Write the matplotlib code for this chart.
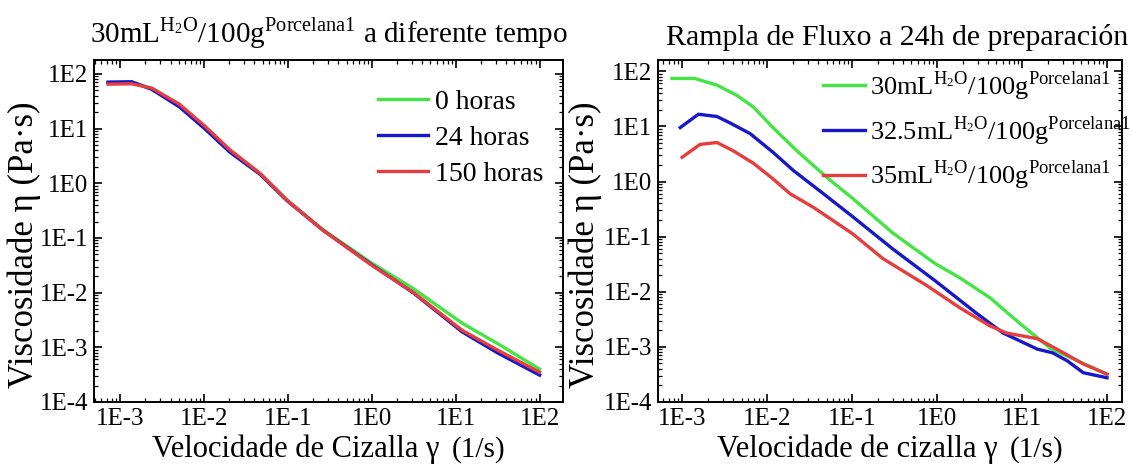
import matplotlib
matplotlib.use("Agg")
import matplotlib.pyplot as plt
import matplotlib.ticker as mticker
from matplotlib.offsetbox import AnchoredOffsetbox, HPacker, TextArea
import numpy as np

plt.rcParams["font.family"] = ["Liberation Serif", "DejaVu Serif"]
plt.rcParams["mathtext.fontset"] = "custom"
plt.rcParams["mathtext.rm"] = "Liberation Serif"

# 左圖：30mL 在不同時間
rate_left = [7.2e-4, 1.38e-3, 2.4e-3, 5.1e-3, 1.02e-2, 2.04e-2, 4.7e-2, 9.8e-2,
             0.263, 1.0, 3.1, 12.0, 31.6, 100.0]
visc_0h = [69, 71, 54, 26, 10.5, 3.8, 1.48, 0.49, 0.141, 0.0347, 0.0120,
           0.00275, 0.00117, 0.00040]
visc_24h = [71, 72, 52, 25, 10.0, 3.7, 1.45, 0.48, 0.138, 0.0324, 0.0100,
            0.00191, 0.00079, 0.00031]
visc_150h = [65, 66, 55, 28, 11.2, 4.1, 1.51, 0.49, 0.138, 0.0316, 0.0102,
             0.00204, 0.00089, 0.00035]

# 右圖：24h 不同含水量
rate_30 = [7.6e-4, 1.41e-3, 2.57e-3, 4.47e-3, 6.9e-3, 1.17e-2, 2.24e-2, 5.1e-2,
           0.102, 0.30, 0.95, 1.86, 4.2, 9.5, 21.4, 44.7, 100.0]
visc_30 = [74, 74, 56, 36, 22.4, 9.5, 3.6, 1.17, 0.49, 0.117, 0.0324, 0.0178,
           0.00776, 0.00263, 0.00095, 0.00056, 0.00032]
rate_325 = [9.5e-4, 1.55e-3, 2.57e-3, 3.6e-3, 6.3e-3, 1.17e-2, 2.04e-2, 4.6e-2,
            0.102, 0.30, 0.95, 2.95, 6.0, 15.1, 22.9, 33.9, 52.5, 100.0]
visc_325 = [9.5, 16.6, 15.1, 11.7, 7.4, 3.4, 1.58, 0.60, 0.229, 0.060, 0.0158,
            0.0040, 0.00178, 0.00091, 0.00078, 0.00056, 0.00034, 0.000275]
rate_35 = [1.0e-3, 1.62e-3, 2.57e-3, 4.0e-3, 6.9e-3, 1.17e-2, 1.86e-2, 3.5e-2,
           0.102, 0.23, 0.76, 1.86, 4.2, 6.6, 15.1, 25.7, 52.5, 100.0]
visc_35 = [2.75, 4.7, 5.1, 3.6, 2.14, 1.12, 0.60, 0.34, 0.112, 0.040, 0.0129,
           0.0051, 0.0024, 0.00178, 0.00141, 0.00091, 0.00049, 0.00032]

GREEN = "#44e444"
BLUE = "#1818c8"
RED = "#e63e3e"

W, H = 1132, 471
fig = plt.figure(figsize=(W / 100, H / 100), dpi=100)
fig.patch.set_facecolor("white")

ax1 = fig.add_axes([94 / W, 1 - 402 / H, (563 - 94) / W, (402 - 60) / H])
ax2 = fig.add_axes([658 / W, 1 - 402 / H, (1122 - 658) / W, (402 - 60) / H])


def e_label(v, pos):
    return "1E%d" % int(round(np.log10(v)))


def style_axis(ax):
    ax.set_xscale("log")
    ax.set_yscale("log")
    for axis in (ax.xaxis, ax.yaxis):
        axis.set_major_locator(mticker.LogLocator(base=10, numticks=20))
        axis.set_minor_locator(mticker.LogLocator(base=10, subs=np.arange(2, 10), numticks=20))
        axis.set_major_formatter(mticker.FuncFormatter(e_label))
        axis.set_minor_formatter(mticker.NullFormatter())
    ax.tick_params(which="both", direction="in", top=True, right=True, labelsize=18)
    ax.tick_params(which="major", length=6, width=1.2, pad=4)
    ax.tick_params(which="minor", length=3, width=0.9)
    for spine in ax.spines.values():
        spine.set_linewidth(1.4)


def x_label(ax, main, y):
    # 主文字大一點，(1/s) 小一點
    box = HPacker(children=[TextArea(main, textprops=dict(fontsize=22)),
                            TextArea("(1/s)", textprops=dict(fontsize=21))],
                  align="baseline", pad=0, sep=9)
    anchored = AnchoredOffsetbox(loc="upper center", child=box, frameon=False,
                                 bbox_to_anchor=(0.5, y), bbox_transform=ax.transAxes,
                                 pad=0, borderpad=0)
    ax.add_artist(anchored)


lw = 2.4
ax1.plot(rate_left, visc_0h, color=GREEN, linewidth=lw, label="0 horas")
ax1.plot(rate_left, visc_24h, color=BLUE, linewidth=lw, label="24 horas")
ax1.plot(rate_left, visc_150h, color=RED, linewidth=lw, label="150 horas")
style_axis(ax1)
ax1.set_xlim(4.9e-4, 1.9e2)
ax1.set_ylim(1e-4, 1.8e2)
ax1.set_title(r"30mL$^{\mathregular{H_2O}}$/100g$^{\mathregular{Porcelana1}}$ a diferente tempo",
              fontsize=21, pad=12)
x_label(ax1, "Velocidade de Cizalla γ", -0.095)
ax1.set_ylabel("Viscosidade η (Pa·s)", fontsize=25)
ax1.yaxis.set_label_coords(-0.113, 0.46)
ax1.legend(loc="upper left", bbox_to_anchor=(0.605, 0.915), frameon=False, fontsize=20,
           handlelength=1.8, handletextpad=0.25, labelspacing=0.38,
           borderpad=0, borderaxespad=0)

lab30 = r"30mL$^{\mathregular{H_2O}}$/100g$^{\mathregular{Porcelana1}}$"
lab325 = r"32.5mL$^{\mathregular{H_2O}}$/100g$^{\mathregular{Porcelana1}}$"
lab35 = r"35mL$^{\mathregular{H_2O}}$/100g$^{\mathregular{Porcelana1}}$"
ax2.plot(rate_30, visc_30, color=GREEN, linewidth=lw, label=lab30)
ax2.plot(rate_325, visc_325, color=BLUE, linewidth=lw, label=lab325)
ax2.plot(rate_35, visc_35, color=RED, linewidth=lw, label=lab35)
style_axis(ax2)
ax2.set_xlim(5.2e-4, 1.5e2)
ax2.set_ylim(1e-4, 1.6e2)
ax2.set_title("Rampla de Fluxo a 24h de preparación", fontsize=21.5, pad=11, x=0.515)
x_label(ax2, "Velocidade de cizalla γ", -0.095)
ax2.set_ylabel("Viscosidade η (Pa·s)", fontsize=25)
ax2.yaxis.set_label_coords(-0.12, 0.46)
ax2.legend(loc="upper left", bbox_to_anchor=(0.355, 0.973), frameon=False, fontsize=19,
           handlelength=1.6, handletextpad=0.2, labelspacing=0.42,
           borderpad=0, borderaxespad=0)

fig.savefig("out.png", dpi=100, facecolor="white")
